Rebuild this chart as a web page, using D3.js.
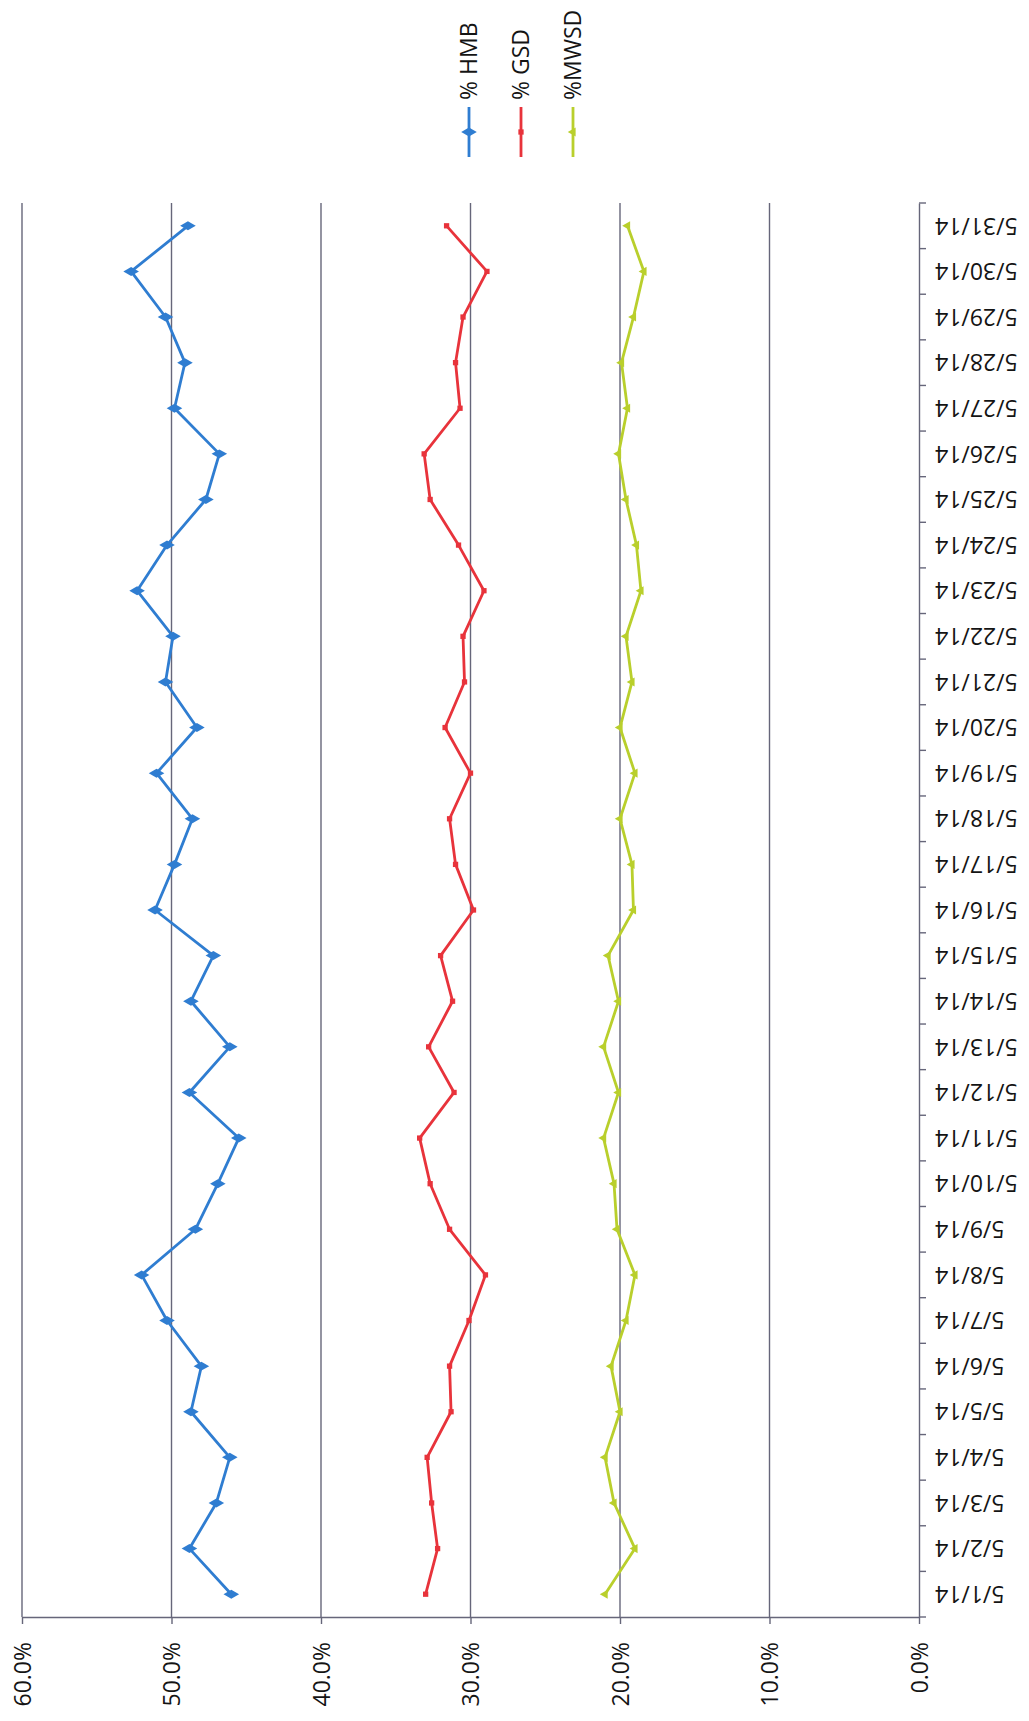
<!DOCTYPE html>
<html>
<head>
<meta charset="utf-8">
<script src="https://cdn.jsdelivr.net/npm/d3@7"></script>
<style>
  html, body { margin: 0; padding: 0; background: #ffffff; }
  svg { display: block; }
  text { font-family: "Open Sans", "Noto Sans", sans-serif; fill: #141414; }
</style>
</head>
<body>
<script>
// Daily share of each group, May 2014 (percent)
const dates = [
  "5/1/14", "5/2/14", "5/3/14", "5/4/14", "5/5/14", "5/6/14", "5/7/14", "5/8/14",
  "5/9/14", "5/10/14", "5/11/14", "5/12/14", "5/13/14", "5/14/14", "5/15/14", "5/16/14",
  "5/17/14", "5/18/14", "5/19/14", "5/20/14", "5/21/14", "5/22/14", "5/23/14", "5/24/14",
  "5/25/14", "5/26/14", "5/27/14", "5/28/14", "5/29/14", "5/30/14", "5/31/14"
];
const hmb = [
  46.0, 48.8, 47.0, 46.1, 48.7, 48.0, 50.3, 52.0, 48.4, 46.9, 45.5, 48.8, 46.1, 48.7, 47.2, 51.1,
  49.8, 48.6, 51.0, 48.3, 50.4, 49.9, 52.3, 50.3, 47.7, 46.8, 49.8, 49.1, 50.4, 52.7, 48.9
];
const gsd = [
  33.0, 32.2, 32.6, 32.9, 31.3, 31.4, 30.1, 29.0, 31.4, 32.7, 33.4, 31.1, 32.8, 31.2, 32.0, 29.8,
  31.0, 31.4, 30.0, 31.7, 30.4, 30.5, 29.1, 30.8, 32.7, 33.1, 30.7, 31.0, 30.5, 28.9, 31.6
];
const mwsd = [
  21.0, 19.0, 20.4, 21.0, 20.0, 20.6, 19.6, 19.0, 20.2, 20.4, 21.1, 20.1, 21.1, 20.1, 20.8, 19.1,
  19.2, 20.0, 19.0, 20.0, 19.2, 19.6, 18.6, 18.9, 19.6, 20.1, 19.5, 19.9, 19.1, 18.4, 19.5
];
const valueTicks = [0, 0.1, 0.2, 0.3, 0.4, 0.5, 0.6];
const seriesNames = ["% HMB", "% GSD", "%MWSD"];
const seriesColors = ["#2f7dd1", "#e8333b", "#b9cf2c"];
const seriesSymbols = [d3.symbolDiamond, d3.symbolSquare, d3.symbolTriangle];
const seriesSymbolSizes = [70, 28, 36];

const W = 1029, H = 1721;
const svg = d3.select("body").append("svg").attr("width", W).attr("height", H);

// Page is laid out sideways: value axis runs right-to-left along the bottom,
// dates run bottom-to-top along the right edge.
const plotTop = 203, plotBottom = 1617;
const x = d3.scaleLinear().domain([0, 0.6]).range([919, 22]);
const y = d3.scaleBand().domain(dates).range([plotBottom, plotTop]).paddingInner(0).paddingOuter(0);
const yc = d => y(d) + y.bandwidth() / 2;

const gridColor = "#66667a";
const labelSize = "23px";

// vertical gridlines
svg.append("g")
  .selectAll("line")
  .data(valueTicks.filter(v => v > 0))
  .join("line")
  .attr("x1", d => x(d)).attr("x2", d => x(d))
  .attr("y1", plotTop).attr("y2", plotBottom)
  .attr("stroke", gridColor).attr("stroke-width", 1.4);

// value axis along the bottom
const xAxis = svg.append("g")
  .attr("transform", `translate(0,${plotBottom})`)
  .call(d3.axisBottom(x).tickValues(valueTicks).tickSize(7).tickSizeOuter(0).tickFormat(d3.format(".1%")));
xAxis.select(".domain").attr("stroke", gridColor).attr("stroke-width", 1.4);
xAxis.selectAll(".tick line").attr("stroke", gridColor).attr("stroke-width", 1.4);
xAxis.selectAll(".tick text")
  .attr("transform", "rotate(-90)")
  .attr("x", -25).attr("y", 0).attr("dy", "0.36em")
  .attr("text-anchor", "end")
  .style("font-size", labelSize)
  .attr("fill", "#141414");

// date axis along the right edge
const yAxis = svg.append("g")
  .attr("transform", `translate(${x(0)},0)`)
  .call(d3.axisRight(y).tickSize(0).tickPadding(0));
yAxis.select(".domain").attr("stroke", gridColor).attr("stroke-width", 1.4);
yAxis.selectAll(".tick text")
  .attr("transform", "rotate(180)")
  .attr("x", -16).attr("y", 0).attr("dy", "0.36em")
  .attr("text-anchor", "end")
  .style("font-size", labelSize)
  .attr("fill", "#141414");

// tick marks between categories
const boundaries = dates.map(d => y(d)).concat([plotBottom]);
svg.append("g")
  .selectAll("line")
  .data(boundaries)
  .join("line")
  .attr("x1", x(0)).attr("x2", x(0) + 7)
  .attr("y1", d => d).attr("y2", d => d)
  .attr("stroke", gridColor).attr("stroke-width", 1.4);

// series
const series = [hmb, gsd, mwsd];
const line = d3.line().x(d => x(d.v / 100)).y(d => yc(d.date));
series.forEach((vals, i) => {
  const pts = vals.map((v, k) => ({ date: dates[k], v }));
  const g = svg.append("g");
  g.append("path")
    .datum(pts)
    .attr("d", line)
    .attr("fill", "none")
    .attr("stroke", seriesColors[i])
    .attr("stroke-width", 2.8)
    .attr("stroke-linejoin", "round");
  g.selectAll("path.marker")
    .data(pts)
    .join("path")
    .attr("class", "marker")
    .attr("d", d3.symbol().type(seriesSymbols[i]).size(seriesSymbolSizes[i]))
    .attr("transform", d => `translate(${x(d.v / 100)},${yc(d.date)}) rotate(-90)`)
    .attr("fill", seriesColors[i]);
});

// legend, reading bottom-to-top above each sample line
const legendX = [469, 521, 573];
const legend = svg.append("g");
seriesNames.forEach((name, i) => {
  const lx = legendX[i];
  legend.append("line")
    .attr("x1", lx).attr("x2", lx)
    .attr("y1", 107).attr("y2", 157)
    .attr("stroke", seriesColors[i]).attr("stroke-width", 2.8);
  legend.append("path")
    .attr("d", d3.symbol().type(seriesSymbols[i]).size(seriesSymbolSizes[i])())
    .attr("transform", `translate(${lx},132) rotate(-90)`)
    .attr("fill", seriesColors[i]);
  legend.append("text")
    .attr("transform", `translate(${lx},100) rotate(-90)`)
    .attr("dy", "0.36em")
    .attr("text-anchor", "start")
    .style("font-size", labelSize)
    .text(name);
});
</script>
</body>
</html>
